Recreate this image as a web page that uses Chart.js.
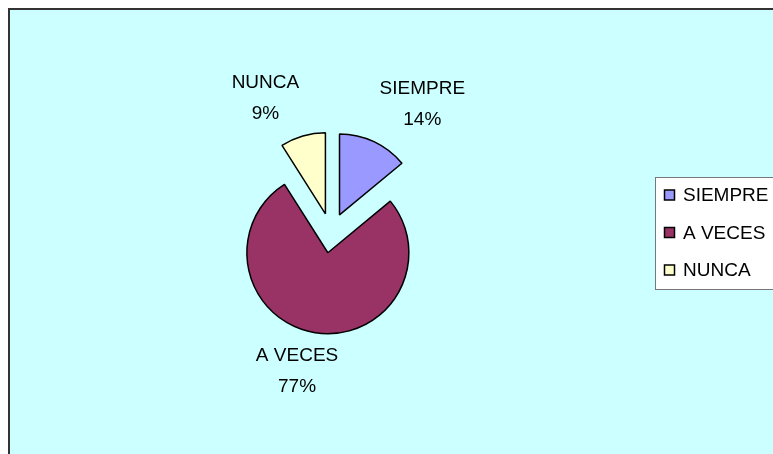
<!DOCTYPE html>
<html>
<head>
<meta charset="utf-8">
<script src="https://cdn.jsdelivr.net/npm/chart.js@4/dist/chart.umd.min.js"></script>
<style>
  html, body { margin: 0; padding: 0; background: #ffffff; }
  #pie { display: block; }
</style>
</head>
<body>
<canvas id="pie" width="773" height="454"></canvas>
<script>
// Data
const categories = ['SIEMPRE', 'A VECES', 'NUNCA'];
const percents = [14, 77, 9];
const sliceColors = ['#9999FF', '#993366', '#FFFFCC'];

const EXPLODE = 20;     // px each slice is pulled out from the centre
const FONT = '19px "Liberation Sans", Arial, sans-serif';

// Excel style explode: move every arc along its middle angle
// (Chart.js' own offset option also grows the radius of the slice)
const explodePlugin = {
    id: 'explode',
    afterUpdate(chart) {
        chart.getDatasetMeta(0).data.forEach(arc => {
            const mid = (arc.startAngle + arc.endAngle) / 2;
            arc.x += Math.cos(mid) * EXPLODE;
            arc.y += Math.sin(mid) * EXPLODE;
        });
    }
};

// Background frame (Excel chart area) and legend box
const framePlugin = {
    id: 'frame',
    beforeDraw(chart) {
        const c = chart.ctx;
        c.save();
        c.fillStyle = '#CCFFFF';
        c.fillRect(8, 8, chart.width, chart.height);
        c.strokeStyle = '#333333';
        c.lineWidth = 2;
        c.beginPath();
        c.moveTo(9, chart.height + 2);
        c.lineTo(9, 9);
        c.lineTo(chart.width + 2, 9);
        c.stroke();
        c.restore();
    },
    afterDraw(chart) {
        const c = chart.ctx;
        c.save();
        c.fillStyle = '#ffffff';
        c.strokeStyle = '#777777';
        c.lineWidth = 1;
        c.fillRect(655.5, 177.5, 130, 112);
        c.strokeRect(655.5, 177.5, 130, 112);
        c.font = FONT;
        c.textAlign = 'left';
        c.textBaseline = 'middle';
        categories.forEach((name, i) => {
            const y = 195 + i * 37.5;
            c.fillStyle = sliceColors[i];
            c.fillRect(664.5, y - 5, 10, 10);
            c.strokeStyle = '#000000';
            c.lineWidth = 1.5;
            c.strokeRect(664.5, y - 5, 10, 10);
            c.fillStyle = '#000000';
            c.fillText(name, 683, y + 1);
        });
        c.restore();
    }
};

// Category + percent labels outside each slice
const labelPlugin = {
    id: 'sliceLabels',
    afterDatasetsDraw(chart) {
        const c = chart.ctx;
        const meta = chart.getDatasetMeta(0);
        const lineGap = 31;
        const h = lineGap + 20;
        const clamp = v => Math.max(-1, Math.min(1, v));
        c.save();
        c.font = FONT;
        c.fillStyle = '#000000';
        c.textAlign = 'center';
        c.textBaseline = 'middle';
        meta.data.forEach((arc, i) => {
            const mid = (arc.startAngle + arc.endAngle) / 2;
            const dx = Math.cos(mid), dy = Math.sin(mid);
            const dist = arc.outerRadius + 13;
            const px = arc.x + dx * dist;
            const py = arc.y + dy * dist;
            const line1 = categories[i];
            const line2 = percents[i] + '%';
            const w = Math.max(c.measureText(line1).width, c.measureText(line2).width);
            const ax = clamp(Math.sign(dx) * Math.pow(dx / 0.25, 2));
            const ay = clamp(Math.sign(dy) * Math.pow(dy / 0.25, 2));
            const cx = px + ax * w / 2;
            const cy = py + ay * h / 2;
            c.fillText(line1, cx, cy - lineGap / 2);
            c.fillText(line2, cx, cy + lineGap / 2);
        });
        c.restore();
    }
};

const ctx = document.getElementById('pie').getContext('2d');
const pieChart = new Chart(ctx, {
    type: 'pie',
    data: {
        labels: categories,
        datasets: [{
            data: percents,
            backgroundColor: sliceColors,
            borderColor: '#000000',
            borderWidth: 1.5
        }]
    },
    options: {
        responsive: false,
        animation: false,
        radius: 81,
        layout: {
            padding: { left: 150, right: 261, top: 60, bottom: 48 }
        },
        plugins: {
            legend: { display: false },
            tooltip: { enabled: false }
        }
    },
    plugins: [explodePlugin, framePlugin, labelPlugin]
});
</script>
</body>
</html>
